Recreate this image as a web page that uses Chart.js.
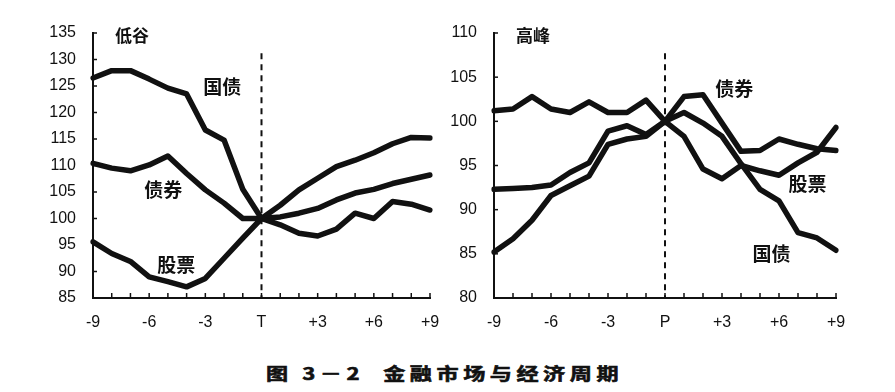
<!DOCTYPE html>
<html>
<head>
<meta charset="utf-8">
<script src="https://cdn.jsdelivr.net/npm/chart.js@4.4.1/dist/chart.umd.min.js"></script>
<style>
  body { margin: 0; background: #fff; width: 895px; height: 392px; position: relative; overflow: hidden; }
  #c1 { position: absolute; left: 0; top: 0; }
  #c2 { position: absolute; left: 440px; top: 0; }
  #cap { position: absolute; left: 266px; top: 363px; font: bold 17px "Noto Sans CJK SC"; line-height: 20px;
         white-space: pre; transform: scaleX(1.3); transform-origin: left top; letter-spacing: 3.5px; color: #111;
         -webkit-text-stroke: 0.6px #111; }
</style>
</head>
<body>
<canvas id="c1" width="450" height="345"></canvas>
<canvas id="c2" width="455" height="345"></canvas>
<div id="cap">图 3－2  金融市场与经济周期</div>
<script>
// months around the turning point, 0 = T (trough) / P (peak)
const troughLabels = ['-9','-8','-7','-6','-5','-4','-3','-2','-1','T','+1','+2','+3','+4','+5','+6','+7','+8','+9'];
const peakLabels   = ['-9','-8','-7','-6','-5','-4','-3','-2','-1','P','+1','+2','+3','+4','+5','+6','+7','+8','+9'];

// 低谷 (trough), index = 100 at T
const troughGovt  = [126.5,127.9,127.9,126.3,124.6,123.5,116.7,114.8,105.5,100,98.8,97.2,96.7,98.0,101.0,100.0,103.2,102.7,101.6];
const troughBond  = [110.4,109.5,109.0,110.1,111.8,108.5,105.4,102.9,100.0,100,100.3,101.0,101.9,103.5,104.8,105.5,106.6,107.4,108.2];
const troughStock = [95.6,93.4,91.9,89.0,88.1,87.1,88.7,92.5,96.3,100,102.5,105.4,107.6,109.8,111.0,112.4,114.1,115.3,115.2];

// 高峰 (peak), index = 100 at P
const peakBond  = [101.2,101.4,102.8,101.4,101.0,102.2,101.0,101.0,102.4,100,102.8,103.0,99.8,96.6,96.7,98.0,97.4,96.9,96.7];
const peakGovt  = [92.3,92.4,92.5,92.8,94.2,95.3,98.9,99.5,98.5,100,101.0,99.8,98.3,95.2,92.3,91.0,87.4,86.8,85.4];
const peakStock = [85.2,86.7,88.8,91.6,92.7,93.8,97.4,98.0,98.3,100,98.3,94.6,93.5,95.0,94.4,93.9,95.3,96.5,99.3];

const shownTicks = ['-9','-6','-3','T','P','+3','+6','+9'];

// series name tags: [text, category index, value]
const troughTags = [['国债', 6.9, 124.8], ['债券', 3.75, 105.4], ['股票', 4.45, 91.2]];
const peakTags   = [['债券', 12.65, 103.7], ['股票', 16.5, 92.9], ['国债', 14.6, 85.0]];

const tickFont = { family: '"Liberation Sans", Arial', size: 16 };
const tagFont = 'bold 19px "Noto Sans CJK SC"';

// dashed line at the turning point, inward ticks, tags
const decor = {
  id: 'decor',
  afterDatasetsDraw(chart, args, opts) {
    const ctx = chart.ctx, x = chart.scales.x, y = chart.scales.y;
    ctx.save();
    ctx.strokeStyle = '#111';
    // inner ticks on x axis
    ctx.lineWidth = 1.5;
    for (let i = 0; i < x.ticks.length; i++) {
      const px = x.getPixelForValue(i);
      ctx.beginPath(); ctx.moveTo(px, y.bottom); ctx.lineTo(px, y.bottom - 5); ctx.stroke();
    }
    // inner ticks on y axis
    for (let v = y.min; v <= y.max; v += 5) {
      const py = y.getPixelForValue(v);
      ctx.beginPath(); ctx.moveTo(x.left, py); ctx.lineTo(x.left + 4, py); ctx.stroke();
    }
    // dashed turning-point line
    const px0 = x.getPixelForValue(9);
    ctx.lineWidth = 2;
    ctx.setLineDash([6, 5]);
    ctx.beginPath(); ctx.moveTo(px0, y.getPixelForValue(opts.dashTop)); ctx.lineTo(px0, y.bottom); ctx.stroke();
    ctx.setLineDash([]);
    // tags
    ctx.fillStyle = '#111';
    ctx.textAlign = 'center'; ctx.textBaseline = 'middle';
    ctx.font = tagFont;
    opts.tags.forEach(t => ctx.fillText(t[0], x.getPixelForValue(t[1]), y.getPixelForValue(t[2])));
    ctx.font = 'bold 17px "Noto Sans CJK SC"';
    ctx.textAlign = 'left';
    ctx.fillText(opts.title, x.left + 22, y.top + 3);
    ctx.restore();
  }
};

function makeChart(id, labels, series, yMin, yMax, yWidth, padRight, dashTop, tags, title) {
  new Chart(document.getElementById(id), {
    type: 'line',
    data: {
      labels: labels,
      datasets: series.map(s => ({
        data: s, borderColor: '#111', borderWidth: 5.5, pointRadius: 0,
        tension: 0, borderJoinStyle: 'round', borderCapStyle: 'round', fill: false
      }))
    },
    options: {
      responsive: false, animation: false, devicePixelRatio: 1,
      layout: { padding: { top: 33, right: padRight, left: 0, bottom: 0 } },
      plugins: { legend: { display: false }, tooltip: { enabled: false },
                 decor: { dashTop: dashTop, tags: tags, title: title } },
      scales: {
        x: {
          offset: false,
          grid: { display: false },
          border: { display: true, color: '#111', width: 2 },
          ticks: {
            autoSkip: false, maxRotation: 0, color: '#111', font: tickFont, padding: 7,
            callback: function (v) { const l = this.getLabelForValue(v); return shownTicks.includes(l) ? l : ''; }
          },
          afterFit: s => { s.height = 47; }
        },
        y: {
          min: yMin, max: yMax,
          grid: { display: false },
          border: { display: true, color: '#111', width: 2 },
          ticks: { stepSize: 5, color: '#111', font: tickFont, padding: 9 },
          afterFit: s => { s.width = yWidth; }
        }
      }
    },
    plugins: [decor]
  });
}

makeChart('c1', troughLabels, [troughGovt, troughBond, troughStock], 85, 135, 93, 20, 131.2, troughTags, '低谷');
makeChart('c2', peakLabels, [peakBond, peakGovt, peakStock], 80, 110, 54, 59, 107.7, peakTags, '高峰');
</script>
</body>
</html>
